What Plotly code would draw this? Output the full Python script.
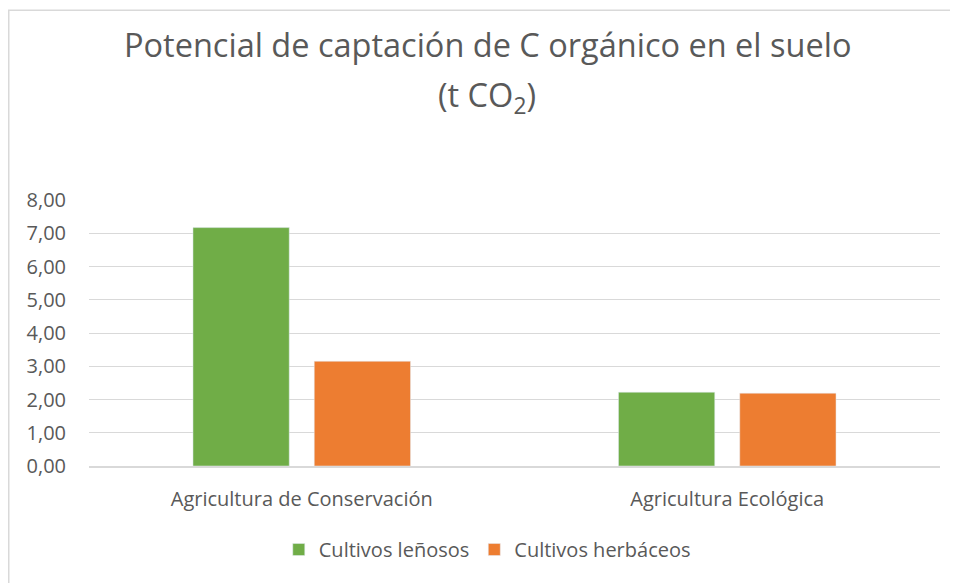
import plotly.graph_objects as go

categories = ["Agricultura de Conservación", "Agricultura Ecológica"]
lenosos = [7.17, 2.22]
herbaceos = [3.15, 2.19]
y_ticks = [0, 1, 2, 3, 4, 5, 6, 7, 8]
y_labels = ["0,00", "1,00", "2,00", "3,00", "4,00", "5,00", "6,00", "7,00", "8,00"]

text_color = "#595959"
font_family = "Open Sans"

fig = go.Figure()

fig.add_trace(go.Bar(
    x=categories,
    y=lenosos,
    name="Cultivos leñosos",
    marker=dict(color="#70AD47"),
))
fig.add_trace(go.Bar(
    x=categories,
    y=herbaceos,
    name="Cultivos herbáceos",
    marker=dict(color="#ED7D31"),
))

# Chart outer border (cropped at right and bottom)
fig.add_shape(
    type="rect", xref="paper", yref="paper",
    x0=-0.0943, x1=1.2, y0=-0.6, y1=1.7137,
    line=dict(color="#d9d9d9", width=1.5),
    fillcolor="rgba(0,0,0,0)",
    layer="below",
)

# Title lines
fig.add_annotation(
    text="Potencial de captación de C orgánico en el suelo",
    xref="paper", yref="paper", x=0.468, y=1.585,
    xanchor="center", yanchor="middle", showarrow=False,
    font=dict(family=font_family, size=32.5, color=text_color),
)
fig.add_annotation(
    text="(t CO<sub>2</sub>)",
    xref="paper", yref="paper", x=0.468, y=1.39,
    xanchor="center", yanchor="middle", showarrow=False,
    font=dict(family=font_family, size=32.5, color=text_color),
)

fig.update_layout(
    width=958,
    height=583,
    paper_bgcolor="white",
    plot_bgcolor="white",
    barmode="group",
    bargap=0.43,
    bargroupgap=0.206,
    margin=dict(l=81, r=26, t=192, b=125),
    font=dict(family=font_family, size=20, color=text_color),
    showlegend=True,
    legend=dict(
        orientation="h",
        x=0.468, xanchor="center",
        y=-0.314, yanchor="middle",
        font=dict(family=font_family, size=20, color=text_color),
        traceorder="normal",
    ),
    xaxis=dict(
        showgrid=False,
        showline=True,
        linecolor="#d9d9d9",
        linewidth=1.5,
        ticks="outside",
        ticklen=14,
        tickcolor="rgba(0,0,0,0)",
        tickfont=dict(family=font_family, size=20, color=text_color),
    ),
    yaxis=dict(
        range=[0, 8],
        tickvals=y_ticks,
        ticktext=y_labels,
        showgrid=True,
        gridcolor="#d9d9d9",
        gridwidth=1,
        zeroline=False,
        ticks="outside",
        ticklen=18,
        tickcolor="rgba(0,0,0,0)",
        tickfont=dict(family=font_family, size=20, color=text_color),
    ),
)

fig.write_html("out.html")
